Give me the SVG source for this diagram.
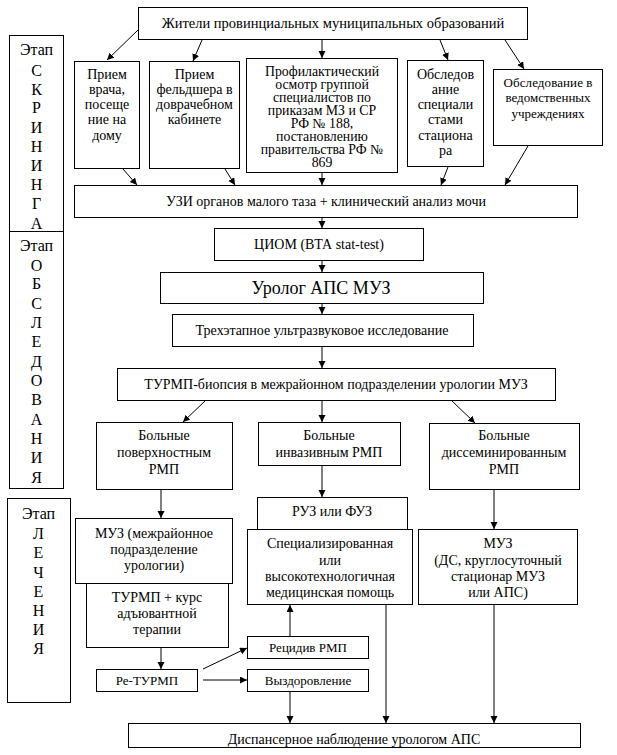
<svg xmlns="http://www.w3.org/2000/svg" width="617" height="755" viewBox="0 0 617 755">
<style>
rect{fill:#fff;stroke:#000;stroke-width:1}
text{font-family:"Liberation Serif","Times New Roman","DejaVu Serif",serif;font-size:14px;fill:#000;text-anchor:middle}
.st{font-size:16px}
.sm{font-size:13px}
.pr{font-size:13.8px}
.big{font-size:18px}
#connectors line{stroke:#000;stroke-width:1;marker-end:url(#ah)}
</style>
<defs>
<marker id="ah" markerUnits="userSpaceOnUse" markerWidth="8" markerHeight="8" refX="7" refY="3.5" orient="auto">
<path d="M0,0 L7,3.5 L0,7 z" fill="#000"/>
</marker>
</defs>
<rect x="0" y="0" width="617" height="755" style="stroke:none"/>

<g id="stage1">
<rect x="9.5" y="35.5" width="54" height="196"/>
<text class="st" x="36.5" y="55">Этап</text>
<text class="st" x="36.5" y="76">С</text>
<text class="st" x="36.5" y="95">К</text>
<text class="st" x="36.5" y="113">Р</text>
<text class="st" x="36.5" y="133">И</text>
<text class="st" x="36.5" y="152">Н</text>
<text class="st" x="36.5" y="171">И</text>
<text class="st" x="36.5" y="190">Н</text>
<text class="st" x="36.5" y="209">Г</text>
<text class="st" x="36.5" y="229">А</text>
</g>
<g id="stage2">
<rect x="9.5" y="231.5" width="54" height="257"/>
<text class="st" x="36.5" y="251">Этап</text>
<text class="st" x="36.5" y="271">О</text>
<text class="st" x="36.5" y="289">Б</text>
<text class="st" x="36.5" y="309">С</text>
<text class="st" x="36.5" y="328">Л</text>
<text class="st" x="36.5" y="347">Е</text>
<text class="st" x="36.5" y="367">Д</text>
<text class="st" x="36.5" y="386">О</text>
<text class="st" x="36.5" y="405">В</text>
<text class="st" x="36.5" y="425">А</text>
<text class="st" x="36.5" y="444">Н</text>
<text class="st" x="36.5" y="463">И</text>
<text class="st" x="36.5" y="483">Я</text>
</g>
<g id="stage3">
<rect x="7.5" y="498.5" width="63" height="204"/>
<text class="st" x="38.5" y="519">Этап</text>
<text class="st" x="38.5" y="539">Л</text>
<text class="st" x="38.5" y="558">Е</text>
<text class="st" x="38.5" y="578">Ч</text>
<text class="st" x="38.5" y="597">Е</text>
<text class="st" x="38.5" y="616">Н</text>
<text class="st" x="38.5" y="635">И</text>
<text class="st" x="38.5" y="654">Я</text>
</g>

<g id="residents">
<rect x="138.5" y="7.5" width="389" height="32"/>
<text x="333" y="28" style="font-size:14.5px">Жители провинциальных муниципальных образований</text>
</g>
<g id="doctor">
<rect x="74.5" y="61.5" width="65" height="107"/>
<text x="107" y="79">Прием</text>
<text x="107" y="94">врача,</text>
<text x="107" y="109">посеще</text>
<text x="107" y="124">ние на</text>
<text x="107" y="140">дому</text>
</g>
<g id="feldsher">
<rect x="149.5" y="61.5" width="90" height="107"/>
<text x="194.5" y="79">Прием</text>
<text x="194.5" y="94">фельдшера в</text>
<text x="194.5" y="109">доврачебном</text>
<text x="194.5" y="124">кабинете</text>
</g>
<g id="prof">
<rect x="246.5" y="58.5" width="151" height="114"/>
<text class="pr" x="322" y="76">Профилактический</text>
<text class="pr" x="322" y="89">осмотр группой</text>
<text class="pr" x="322" y="102">специалистов по</text>
<text class="pr" x="322" y="115">приказам МЗ и СР</text>
<text class="pr" x="322" y="128">РФ № 188,</text>
<text class="pr" x="322" y="141">постановлению</text>
<text class="pr" x="322" y="154">правительства РФ №</text>
<text class="pr" x="322" y="167">869</text>
</g>
<g id="hospital">
<rect x="407.5" y="60.5" width="76" height="106"/>
<text x="445.5" y="79">Обследов</text>
<text x="445.5" y="94">ание</text>
<text x="445.5" y="109">специали</text>
<text x="445.5" y="124">стами</text>
<text x="445.5" y="140">стациона</text>
<text x="445.5" y="155">ра</text>
</g>
<g id="departmental">
<rect x="493.5" y="69.5" width="109" height="76"/>
<text class="sm" x="548" y="87" textLength="89">Обследование в</text>
<text class="sm" x="548" y="102">ведомственных</text>
<text class="sm" x="548" y="118">учреждениях</text>
</g>
<g id="uzi">
<rect x="74.5" y="185.5" width="503" height="32"/>
<text x="326" y="206">УЗИ органов малого таза + клинический анализ мочи</text>
</g>
<g id="ciom">
<rect x="214.5" y="228.5" width="209" height="32"/>
<text x="319" y="249">ЦИОМ (ВТА stat-test)</text>
</g>
<g id="urolog">
<rect x="160.5" y="272.5" width="323" height="31"/>
<text class="big" x="321" y="294">Уролог АПС МУЗ</text>
</g>
<g id="threestage">
<rect x="172.5" y="314.5" width="301" height="32"/>
<text x="322" y="335">Трехэтапное ультразвуковое исследование</text>
</g>
<g id="biopsy">
<rect x="117.5" y="368.5" width="438" height="32"/>
<text x="336" y="389">ТУРМП-биопсия в межрайонном подразделении урологии МУЗ</text>
</g>
<g id="superficial">
<rect x="96.5" y="422.5" width="136" height="67"/>
<text x="164" y="440">Больные</text>
<text x="164" y="457">поверхностным</text>
<text x="164" y="474">РМП</text>
</g>
<g id="invasive">
<rect x="258.5" y="422.5" width="142" height="43"/>
<text x="329" y="440">Больные</text>
<text x="329" y="457">инвазивным РМП</text>
</g>
<g id="disseminated">
<rect x="429.5" y="423.5" width="150" height="66"/>
<text x="504" y="440">Больные</text>
<text x="504" y="457">диссеминированным</text>
<text x="504" y="474">РМП</text>
</g>
<g id="muz1">
<rect x="75.5" y="518.5" width="157" height="65"/>
<text x="154" y="538">МУЗ (межрайонное</text>
<text x="154" y="554">подразделение</text>
<text x="154" y="570">урологии)</text>
</g>
<g id="turmp">
<rect x="86.5" y="583.5" width="142" height="64"/>
<text x="157" y="602">ТУРМП + курс</text>
<text x="157" y="618">адъювантной</text>
<text x="157" y="634">терапии</text>
</g>
<g id="returmp">
<rect x="96.5" y="669.5" width="101" height="22"/>
<text class="sm" x="147" y="685">Ре-ТУРМП</text>
</g>
<g id="relapse">
<rect x="247.5" y="636.5" width="121" height="22"/>
<text class="sm" x="308" y="652">Рецидив РМП</text>
</g>
<g id="recovery">
<rect x="247.5" y="669.5" width="121" height="22"/>
<text class="sm" x="308" y="685">Выздоровление</text>
</g>
<g id="ruz">
<rect x="257.5" y="497.5" width="150" height="32"/>
<text x="332" y="516">РУЗ или ФУЗ</text>
</g>
<g id="special">
<rect x="247.5" y="529.5" width="165" height="75"/>
<text x="330" y="548">Специализированная</text>
<text x="330" y="565">или</text>
<text x="330" y="581">высокотехнологичная</text>
<text x="330" y="597">медицинская помощь</text>
</g>
<g id="muz2">
<rect x="418.5" y="529.5" width="159" height="75"/>
<text x="498" y="548">МУЗ</text>
<text x="498" y="565">(ДС, круглосуточный</text>
<text x="498" y="581">стационар МУЗ</text>
<text x="498" y="597">или АПС)</text>
</g>
<g id="dispensary">
<rect x="128.5" y="723.5" width="452" height="24"/>
<text x="354" y="744">Диспансерное наблюдение урологом АПС</text>
</g>

<g id="connectors">
<line x1="138" y1="30" x2="107" y2="60"/>
<line x1="202" y1="40" x2="193" y2="61"/>
<line x1="322" y1="40" x2="322" y2="58"/>
<line x1="440" y1="40" x2="448" y2="60"/>
<line x1="505" y1="40" x2="524" y2="69"/>
<line x1="123" y1="169" x2="137" y2="185"/>
<line x1="225" y1="169" x2="235" y2="185"/>
<line x1="322" y1="173" x2="322" y2="185"/>
<line x1="448" y1="167" x2="441" y2="185"/>
<line x1="528" y1="146" x2="505" y2="185"/>
<line x1="322" y1="218" x2="322" y2="228"/>
<line x1="322" y1="261" x2="322" y2="272"/>
<line x1="322" y1="304" x2="322" y2="314"/>
<line x1="322" y1="347" x2="322" y2="368"/>
<line x1="205" y1="401" x2="183" y2="422"/>
<line x1="322" y1="401" x2="322" y2="422"/>
<line x1="452" y1="401" x2="475" y2="423"/>
<line x1="161" y1="490" x2="161" y2="518"/>
<line x1="322" y1="466" x2="322" y2="497"/>
<line x1="494" y1="490" x2="494" y2="529"/>
<line x1="161" y1="648" x2="161" y2="669"/>
<line x1="203" y1="669" x2="247" y2="648"/>
<line x1="203" y1="680" x2="247" y2="680"/>
<line x1="290" y1="636" x2="290" y2="605"/>
<line x1="290" y1="692" x2="290" y2="723"/>
<line x1="386" y1="605" x2="386" y2="723"/>
<line x1="494" y1="605" x2="494" y2="723"/>
</g>
</svg>
